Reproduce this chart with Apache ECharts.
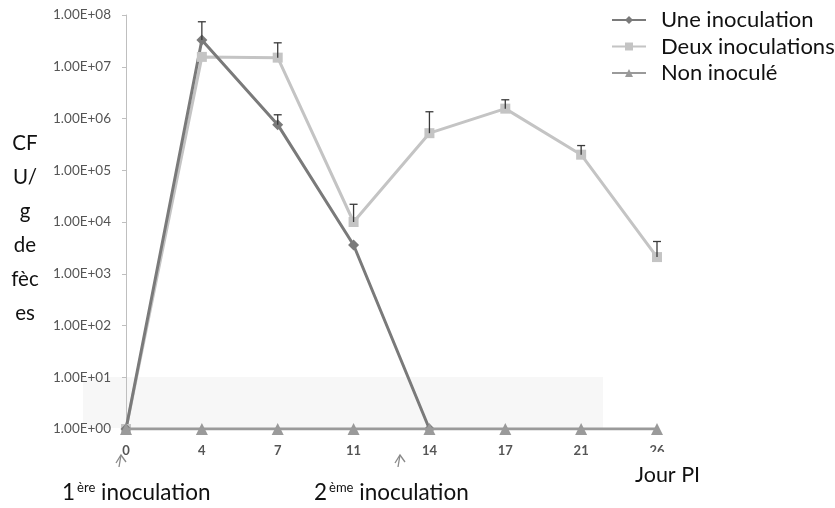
<!DOCTYPE html>
<html><head><meta charset="utf-8">
<script src="https://cdn.jsdelivr.net/npm/echarts@6/dist/echarts.min.js"></script>
<style>html,body{margin:0;padding:0;background:#fff}#c{width:835px;height:508px}</style>
</head><body><div id="c"></div>
<script>
const days = ['0','4','7','11','14','17','21','26'];
const uneInoc = [1, 3.3e7, 7.6e5, 3.6e3, 1, null, null, null];
const uneErrTop = [null, 7.4e7, 1.18e6, null, null, null, null, null];
const deuxInoc = [1, 1.55e7, 1.5e7, 1.0e4, 5.2e5, 1.55e6, 2.0e5, 2.1e3];
const deuxErrTop = [null, null, 2.9e7, 2.2e4, 1.35e6, 2.3e6, 3.0e5, 4.2e3];
const nonInoc = [1, 1, 1, 1, 1, 1, 1, 1];

function fmt(v){const e=Math.round(Math.log10(v));return '1.00E+'+(e<10?'0':'')+e;}

function errSeries(vals, tops){
  const data=[];
  vals.forEach((v,i)=>{ if(tops[i]!=null && v!=null) data.push([i, v, tops[i]]); });
  return {
    type:'custom', silent:true, z:5,
    data,
    renderItem(params, api){
      const p0=api.coord([api.value(0), api.value(1)]);
      const p1=api.coord([api.value(0), api.value(2)]);
      const st={stroke:'#3a3a3a', lineWidth:1.3};
      return {type:'group', children:[
        {type:'line', shape:{x1:p0[0],y1:p0[1],x2:p1[0],y2:p1[1]}, style:st},
        {type:'line', shape:{x1:p1[0]-4,y1:p1[1],x2:p1[0]+4,y2:p1[1]}, style:st}
      ]};
    }
  };
}
const FONT='Lato, sans-serif';
const supRich = {
  n:{fontSize:22.5, fill:'#111', fontFamily:FONT, verticalAlign:'bottom'},
  s:{fontSize:13, fill:'#111', fontFamily:FONT, verticalAlign:'top', padding:[0,0,9,2]}
};
const chart = echarts.init(document.getElementById('c'));
chart.setOption({
  animation:false,
  backgroundColor:'#fff',
  grid:{left:126, right:178, top:15, bottom:79},
  legend:{
    orient:'vertical', left:606, top:4, itemWidth:34, itemHeight:10, itemGap:4.5,
    textStyle:{fontSize:22, lineHeight:20, color:'#111', fontFamily:FONT, padding:[0,0,0,10]},
    data:['Une inoculation','Deux inoculations','Non inoculé']
  },
  xAxis:{
    type:'category', data:days, boundaryGap:false,
    axisLine:{lineStyle:{color:'#a6a6a6', width:2}},
    axisTick:{show:false},
    axisLabel:{color:'#555', fontSize:13, fontWeight:'bold', margin:15, fontFamily:FONT},
    splitLine:{show:false}
  },
  yAxis:{
    type:'log', logBase:10, min:1, max:1e8,
    axisLine:{show:true, lineStyle:{color:'#bfbfbf', width:1}},
    axisTick:{show:true, length:4, lineStyle:{color:'#bfbfbf'}},
    splitLine:{show:false},
    axisLabel:{color:'#555', fontSize:13.5, margin:15, formatter:fmt, fontFamily:FONT}
  },
  graphic:[
    {type:'rect', z:-10, shape:{x:83,y:377,width:520,height:51}, style:{fill:'#f7f7f7'}},
    {type:'rect', z:100, shape:{x:640,y:452,width:40,height:12}, style:{fill:'#fff'}},
    {type:'text', x:25, y:126, style:{text:'CF\nU/\ng\nde\nfèc\nes', fontSize:20.5, lineHeight:34, align:'center', verticalAlign:'top', fill:'#111', fontFamily:FONT}},
    {type:'text', x:62, y:481, style:{text:'{n|1}{s|ère}{n| inoculation}', rich:supRich}},
    {type:'text', x:314, y:481, style:{text:'{n|2}{s|ème}{n| inoculation}', rich:supRich}},
    {type:'text', x:635, y:464, style:{text:'Jour PI', fontSize:21.5, fill:'#111', fontFamily:FONT}},
    {type:'polyline', shape:{points:[[116,463],[121,455],[126,462]]}, style:{stroke:'#8a8a8a', lineWidth:1.3, fill:null}},
    {type:'line', shape:{x1:121,y1:455,x2:119,y2:467}, style:{stroke:'#8a8a8a', lineWidth:1.3}},
    {type:'polyline', shape:{points:[[395,463],[400,455],[405,462]]}, style:{stroke:'#8a8a8a', lineWidth:1.3, fill:null}},
    {type:'line', shape:{x1:400,y1:455,x2:398,y2:467}, style:{stroke:'#8a8a8a', lineWidth:1.3}}
  ],
  series:[
    {name:'Non inoculé', type:'line', data:nonInoc, symbol:'triangle', symbolSize:12, z:4,
      itemStyle:{color:'#9a9a9a'}, lineStyle:{color:'#9a9a9a', width:3}},
    {name:'Deux inoculations', type:'line', data:deuxInoc, symbol:'rect', symbolSize:10, z:3,
      itemStyle:{color:'#c4c4c4'}, lineStyle:{color:'#c4c4c4', width:3}},
    {name:'Une inoculation', type:'line', data:uneInoc, symbol:'diamond', symbolSize:11, z:3,
      itemStyle:{color:'#7a7a7a'}, lineStyle:{color:'#7a7a7a', width:3}},
    errSeries(uneInoc, uneErrTop),
    errSeries(deuxInoc, deuxErrTop)
  ]
});
</script></body></html>
